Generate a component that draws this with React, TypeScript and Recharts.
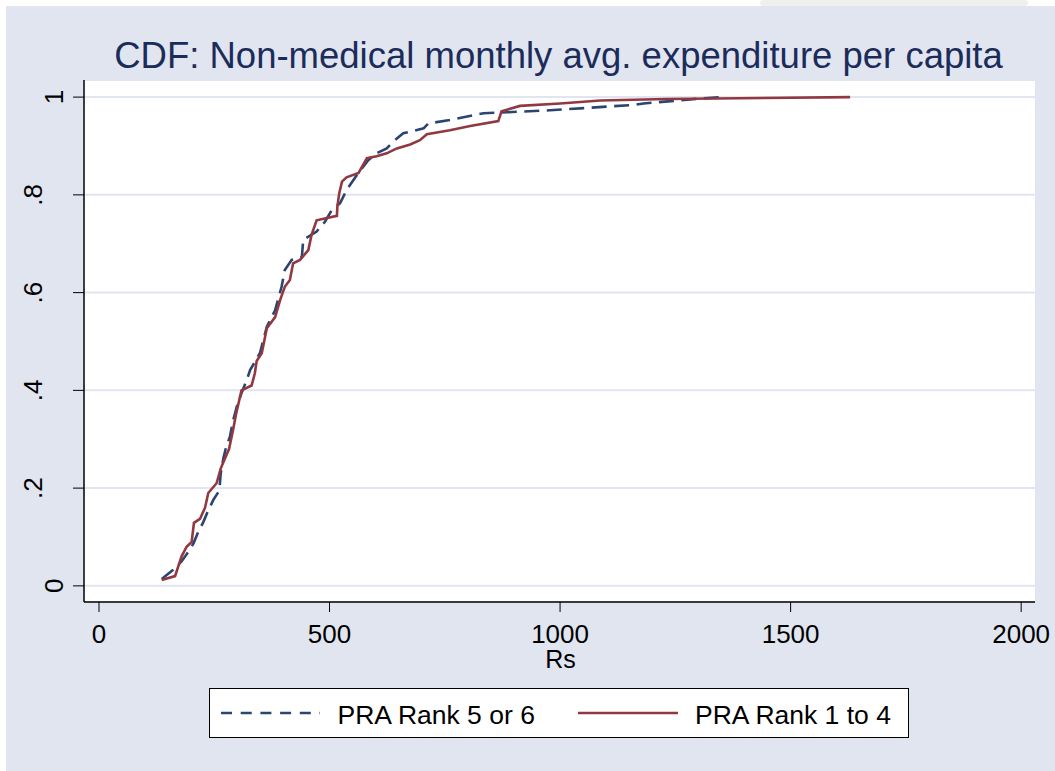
import { LineChart, Line, XAxis, YAxis, CartesianGrid } from 'recharts';

// PRA Rank 5 or 6 (dashed navy)
const rank56X = [
  136, 161, 179, 194, 205, 215, 226, 235, 248, 261, 264, 270, 276, 284, 290, 299, 309, 320,
  328, 349, 364, 382, 396, 403, 418, 440, 443, 472, 490, 505, 523, 537, 559, 584, 602, 624,
  638, 660, 682, 704, 714, 761, 834, 884, 978, 1159, 1181, 1304, 1350,
];
const rank56Y = [
  0.014, 0.033, 0.05, 0.07, 0.087, 0.11, 0.13, 0.15, 0.176, 0.195, 0.23, 0.262, 0.285, 0.305,
  0.335, 0.367, 0.394, 0.42, 0.442, 0.476, 0.53, 0.564, 0.612, 0.646, 0.667, 0.673, 0.708,
  0.725, 0.745, 0.769, 0.783, 0.81, 0.84, 0.871, 0.885, 0.895, 0.909, 0.926, 0.931, 0.936,
  0.946, 0.953, 0.967, 0.969, 0.973, 0.984, 0.987, 0.997, 1.0,
];

// PRA Rank 1 to 4 (solid maroon)
const rank14X = [
  136, 165, 179, 190, 201, 206, 219, 230, 237, 255, 264, 273, 282, 291, 297, 309, 331, 338,
  342, 353, 364, 382, 393, 403, 414, 421, 436, 454, 461, 472, 516, 517, 521, 527, 537, 563,
  581, 602, 624, 646, 675, 696, 711, 761, 805, 866, 873, 913, 1000, 1087, 1231, 1629,
];
const rank14Y = [
  0.012, 0.02, 0.06, 0.08, 0.09, 0.129, 0.137, 0.16, 0.19, 0.21, 0.24, 0.26, 0.28, 0.32, 0.35,
  0.4, 0.41, 0.435, 0.46, 0.476, 0.527, 0.55, 0.585, 0.612, 0.626, 0.66, 0.667, 0.687, 0.718,
  0.748, 0.757, 0.776, 0.803, 0.827, 0.836, 0.845, 0.875, 0.879, 0.885, 0.895, 0.903, 0.912,
  0.924, 0.932, 0.941, 0.951, 0.971, 0.982, 0.987, 0.993, 0.996, 1.0,
];

const xTicks = [0, 500, 1000, 1500, 2000];
const yTicks = [0, 0.2, 0.4, 0.6, 0.8, 1];
const yTickLabels = ['0', '.2', '.4', '.6', '.8', '1'];

const seriesNames = ['PRA Rank 5 or 6', 'PRA Rank 1 to 4'];
const titleText = 'CDF: Non-medical monthly avg. expenditure per capita';

const FONT = '"Liberation Sans", Arial, sans-serif';
const NAVY = '#2a4473';
const MAROON = '#923840';
const BG = '#e1e5f0';

const rank56 = rank56X.map((v, i) => ({ v, p: rank56Y[i] }));
const rank14 = rank14X.map((v, i) => ({ v, p: rank14Y[i] }));

const XTick = ({ x, y, payload }: any) => (
  <text x={x} y={y + 29} textAnchor="middle" fontSize={26} fill="#000" fontFamily={FONT}>
    {payload.value}
  </text>
);

const YTick = ({ y, payload }: any) => {
  const idx = yTicks.indexOf(payload.value);
  const label = yTickLabels[idx] ?? String(payload.value);
  // Stata puts the short labels a bit further right than the dotted ones
  const bx = label.length === 1 ? 63 : 42;
  return (
    <text
      x={bx}
      y={y}
      transform={`rotate(-90, ${bx}, ${y})`}
      textAnchor="middle"
      fontSize={26}
      fill="#000"
      fontFamily={FONT}
    >
      {label}
    </text>
  );
};

export default function App() {
  return (
    <div style={{ position: 'absolute', left: 0, top: 0, width: 1055, height: 771, background: '#fff', overflow: 'hidden' }}>
      <div style={{ position: 'absolute', left: 760, top: 0, width: 268, height: 6, background: '#efefef', borderRadius: 3 }} />
      <div style={{ position: 'absolute', left: 6, top: 6, width: 1049, height: 765, background: BG }} />
      <div style={{ position: 'absolute', left: 0, top: 0 }}>
        <LineChart width={1055} height={771} margin={{ top: 80, right: 20, bottom: 129, left: 44 }}>
          <CartesianGrid fill="#fff" vertical={false} stroke={BG} strokeWidth={2} />
          <XAxis
            type="number"
            dataKey="v"
            domain={[-32.5, 2030]}
            ticks={xTicks}
            allowDataOverflow
            height={40}
            tickSize={10}
            tickLine={{ stroke: '#000' }}
            axisLine={{ stroke: '#000', strokeWidth: 1.5 }}
            tick={<XTick />}
          />
          <YAxis
            type="number"
            dataKey="p"
            domain={[-0.033, 1.035]}
            ticks={yTicks}
            allowDataOverflow
            width={40}
            tickSize={11}
            tickLine={{ stroke: '#000' }}
            axisLine={{ stroke: '#000', strokeWidth: 1.5 }}
            tick={<YTick />}
          />
          <Line
            data={rank56}
            dataKey="p"
            name={seriesNames[0]}
            type="linear"
            stroke={NAVY}
            strokeWidth={2.6}
            strokeDasharray="15 7.5"
            dot={false}
            isAnimationActive={false}
          />
          <Line
            data={rank14}
            dataKey="p"
            name={seriesNames[1]}
            type="linear"
            stroke={MAROON}
            strokeWidth={2.6}
            dot={false}
            isAnimationActive={false}
          />
        </LineChart>
      </div>
      <svg width={1055} height={771} style={{ position: 'absolute', left: 0, top: 0, pointerEvents: 'none' }}>
        <text x={558.5} y={68} textAnchor="middle" fontSize={36.5} fill="#1c2c5a" fontFamily={FONT}>
          {titleText}
        </text>
        <text x={560.5} y={668} textAnchor="middle" fontSize={25} fill="#000" fontFamily={FONT}>
          Rs
        </text>
        <rect x={209.5} y={688.5} width={699} height={49} fill="#fff" stroke="#000" strokeWidth={1} />
        <line x1={221} y1={713} x2={320} y2={713} stroke={NAVY} strokeWidth={2.6} strokeDasharray="11 8.7" />
        <text x={337.5} y={724} fontSize={26.5} fill="#000" fontFamily={FONT}>
          {seriesNames[0]}
        </text>
        <line x1={578} y1={713} x2={678} y2={713} stroke={MAROON} strokeWidth={2.6} />
        <text x={695} y={724} fontSize={26.5} fill="#000" fontFamily={FONT}>
          {seriesNames[1]}
        </text>
      </svg>
    </div>
  );
}
